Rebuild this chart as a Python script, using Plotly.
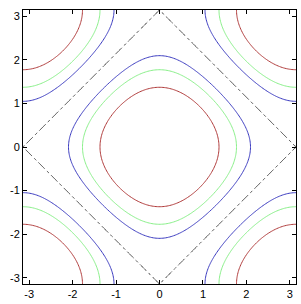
import numpy as np
import plotly.graph_objects as go

# contour field: z = cos(x) + cos(y) sampled on a grid over [-pi, pi]^2
x = np.linspace(-np.pi, np.pi, 200)
y = np.linspace(-np.pi, np.pi, 200)
X, Y = np.meshgrid(x, y)
Z = np.cos(X) + np.cos(Y)

# contour levels (symmetric pairs share a colour)
level_values = [1.2, 0.8, 0.5, -0.5, -0.8, -1.2]
level_colors = ["#b03a3a", "#88f088", "#3a3ac0", "#3a3ac0", "#88f088", "#b03a3a"]
zero_level = [0.0]

tick_vals = [-3, -2, -1, 0, 1, 2, 3]
tick_text = ["-3", "-2", "-1", "0", "1", "2", "3"]

fig = go.Figure()
for lv, col in zip(level_values, level_colors):
    fig.add_trace(go.Contour(
        x=x, y=y, z=Z,
        contours=dict(start=lv, end=lv, size=1, coloring="none"),
        line=dict(color=col, width=1),
        showscale=False, hoverinfo="skip",
    ))
for lv in zero_level:
    fig.add_trace(go.Contour(
        x=x, y=y, z=Z,
        contours=dict(start=lv, end=lv, size=1, coloring="none"),
        line=dict(color="#444444", width=1, dash="dashdot"),
        showscale=False, hoverinfo="skip",
    ))

axis_common = dict(
    range=[-np.pi, np.pi], tickvals=tick_vals, ticktext=tick_text,
    ticks="inside", ticklen=4, tickcolor="black", showline=True,
    linecolor="black", linewidth=1, mirror="ticks", showgrid=False,
    zeroline=False, automargin=False,
    tickfont=dict(family="Liberation Sans, Arial", size=11, color="black"),
)
fig.update_layout(
    width=301, height=304,
    margin=dict(l=23, r=5, t=10, b=20, autoexpand=False),
    paper_bgcolor="white", plot_bgcolor="white",
    xaxis=dict(axis_common),
    yaxis=dict(axis_common),
    showlegend=False,
)
fig.write_html("out.html", config={"displayModeBar": False},
               post_script="document.body.style.margin='0';document.body.style.overflow='hidden';")
